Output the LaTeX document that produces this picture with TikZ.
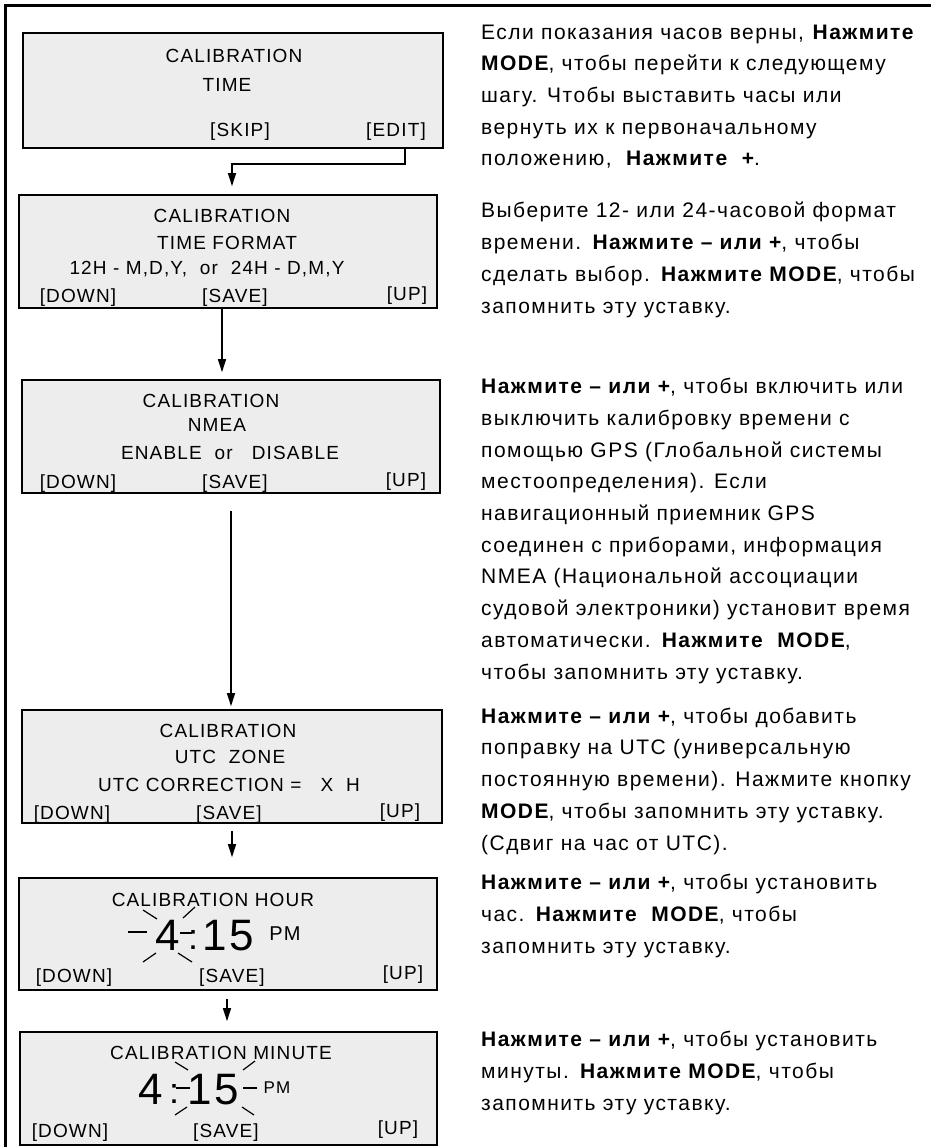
\documentclass[tikz,border=0pt]{standalone}
\usepackage{fontspec}
\setmainfont{Liberation Sans}
\newfontfamily\lcdfont{Liberation Sans}[LetterSpace=6]
\newfontfamily\notefont{Liberation Sans}[LetterSpace=7]
\usetikzlibrary{arrows.meta,positioning,calc}

\begin{document}
\begin{tikzpicture}[x=1pt, y=-1pt,
    lcd/.style={rectangle, draw, line width=1.6pt, fill=black!7, minimum width=418pt, minimum height=113pt, inner sep=0pt},
    lcdtext/.style={anchor=base, inner sep=0pt, font=\lcdfont\fontsize{19}{19}\selectfont},
    digits/.style={anchor=base, inner sep=0pt, font=\lcdfont\fontsize{44}{44}\selectfont},
    ampm/.style={anchor=base, inner sep=0pt, font=\lcdfont\fontsize{17}{17}\selectfont},
    note/.style={anchor=base west, align=left, inner sep=0pt, font=\notefont\fontsize{21}{31.7}\selectfont},
    arrow/.style={->, >={Triangle[length=13pt,width=8pt]}, line width=1.5pt},
    flash/.style={line width=1.2pt},
    frame/.style={line width=3pt}
]
\useasboundingbox (0,0) rectangle (931,1147);

% Outer frame
\draw[frame] (5.5,1147) -- (5.5,5.5) -- (931,5.5);

% Display screens
\node[lcd, minimum width=420pt, minimum height=115pt] (b1) at (233,90.5) {};
\node[lcd] (b2) at (228,251.5) {};
\node[lcd] (b3) at (231,436.5) {};
\node[lcd, minimum width=420pt] (b4) at (232,766.5) {};
\node[lcd, minimum height=112pt] (b5) at (228,934) {};
\node[lcd, minimum width=417pt] (b6) at (228.5,1088.5) {};

% Screen 1: time
\node[lcdtext] (b1title) at (234,63) {CALIBRATION};
\node[lcdtext] (b1mode) at (227,92) {TIME};
\node[lcdtext] (b1skip) at (240,137) {[SKIP]};
\node[lcdtext] (b1edit) at (396,137) {[EDIT]};

% Screen 2: time format
\node[lcdtext] (b2title) at (222,223) {CALIBRATION};
\node[lcdtext] (b2mode) at (227,250) {TIME FORMAT};
\node[lcdtext] (b2value) at (207,275) {12H - M,D,Y,~ or~ 24H - D,M,Y};
\node[lcdtext] (b2down) at (78,302) {[DOWN]};
\node[lcdtext] (b2save) at (235,302) {[SAVE]};
\node[lcdtext] (b2up) at (407,300) {[UP]};

% Screen 3: NMEA
\node[lcdtext] (b3title) at (211,407) {CALIBRATION};
\node[lcdtext] (b3mode) at (217,431) {NMEA};
\node[lcdtext] (b3value) at (230,459) {ENABLE~ or~~ DISABLE};
\node[lcdtext] (b3down) at (78,488) {[DOWN]};
\node[lcdtext] (b3save) at (235,488) {[SAVE]};
\node[lcdtext] (b3up) at (406,486) {[UP]};

% Screen 4: UTC zone
\node[lcdtext] (b4title) at (228,737) {CALIBRATION};
\node[lcdtext] (b4mode) at (230,763) {UTC~ ZONE};
\node[lcdtext] (b4value) at (229,791) {UTC CORRECTION =~~ X~ H};
\node[lcdtext] (b4down) at (72,819) {[DOWN]};
\node[lcdtext] (b4save) at (229,819) {[SAVE]};
\node[lcdtext] (b4up) at (400,817) {[UP]};

% Screen 5: hour
\node[lcdtext] (b5title) at (213,906) {CALIBRATION HOUR};
\node[digits] (b5hour) at (168,950) {4};
\node[digits, font=\lcdfont\fontsize{36}{36}\selectfont] (b5colon) at (193,949) {:};
\node[digits] (b5min) at (228,950) {15};
\node[ampm, font=\lcdfont\fontsize{20}{20}\selectfont] (b5pm) at (285,940) {PM};
\node[lcdtext] (b5down) at (74,982) {[DOWN]};
\node[lcdtext] (b5save) at (232,982) {[SAVE]};
\node[lcdtext] (b5up) at (403,979) {[UP]};
\draw[flash] (128,932) -- (147,932);
\draw[flash] (143,910) -- (157,919);
\draw[flash] (183,918) -- (195,907);
\draw[flash] (143,962) -- (156,953);
\draw[flash] (178,953) -- (192,962);
\draw[flash] (180,933) -- (192,933);

% Screen 6: minute
\node[lcdtext] (b6title) at (221,1059) {CALIBRATION MINUTE};
\node[digits] (b6hour) at (151,1104) {4};
\node[digits, font=\lcdfont\fontsize{36}{36}\selectfont] (b6colon) at (174,1103) {:};
\node[digits] (b6min) at (213,1104) {15};
\node[ampm] (b6pm) at (277,1093) {PM};
\node[lcdtext] (b6down) at (70,1137) {[DOWN]};
\node[lcdtext] (b6save) at (226,1137) {[SAVE]};
\node[lcdtext] (b6up) at (398,1134) {[UP]};
\draw[flash] (175,1062) -- (188,1070);
\draw[flash] (176,1088) -- (190,1088);
\draw[flash] (243,1070) -- (255,1061);
\draw[flash] (243,1088) -- (257,1088);
\draw[flash] (175,1115) -- (187,1107);
\draw[flash] (242,1107) -- (254,1115);

% Arrows
\draw[arrow, shorten >=8pt] ([xshift=172pt]b1.south) -- ++(0,15) -| ([xshift=4pt]b2.north);
\draw[arrow, shorten >=7pt] ([xshift=-6pt]b2.south) -- ([xshift=-6pt]b2.south |- b3.north);
\draw[arrow, shorten <=17pt, shorten >=3pt] (b3.south) -- (b3.south |- b4.north);
\draw[arrow, shorten <=7pt, shorten >=20pt] (b4.south) -- (b4.south |- b5.north);
\draw[arrow, shorten <=8pt, shorten >=10pt] ([xshift=-1pt]b5.south) -- ([xshift=-1pt]b5.south |- b6.north);

% Instructions (placed at the baseline of their last line)
\node[note] (t1) at (481,166) {Если показания часов верны, \textbf{Нажмите}\\
\textbf{MODE}, чтобы перейти к следующему\\
шагу. Чтобы выставить часы или\\
вернуть их к первоначальному\\
положению,~ \textbf{Нажмите~ +}.};
\node[note] (t2) at (481,313) {Выберите 12- или 24-часовой формат\\
времени. \textbf{Нажмите – или +}, чтобы\\
сделать выбор. \textbf{Нажмите MODE}, чтобы\\
запомнить эту уставку.};
\node[note] (t3) at (481,679) {\textbf{Нажмите – или +}, чтобы включить или\\
выключить калибровку времени с\\
помощью GPS (Глобальной системы\\
местоопределения). Если\\
навигационный приемник GPS\\
соединен с приборами, информация\\
NMEA (Национальной ассоциации\\
судовой электроники) установит время\\
автоматически. \textbf{Нажмите~ MODE},\\
чтобы запомнить эту уставку.};
\node[note] (t4) at (481,850) {\textbf{Нажмите – или +}, чтобы добавить\\
поправку на UTC (универсальную\\
постоянную времени). Нажмите кнопку\\
\textbf{MODE}, чтобы запомнить эту уставку.\\
(Сдвиг на час от UTC).};
\node[note] (t5) at (481,953) {\textbf{Нажмите – или +}, чтобы установить\\
час. \textbf{Нажмите~ MODE}, чтобы\\
запомнить эту уставку.};
\node[note] (t6) at (481,1110) {\textbf{Нажмите – или +}, чтобы установить\\
минуты. \textbf{Нажмите MODE}, чтобы\\
запомнить эту уставку.};

\end{tikzpicture}
\end{document}
